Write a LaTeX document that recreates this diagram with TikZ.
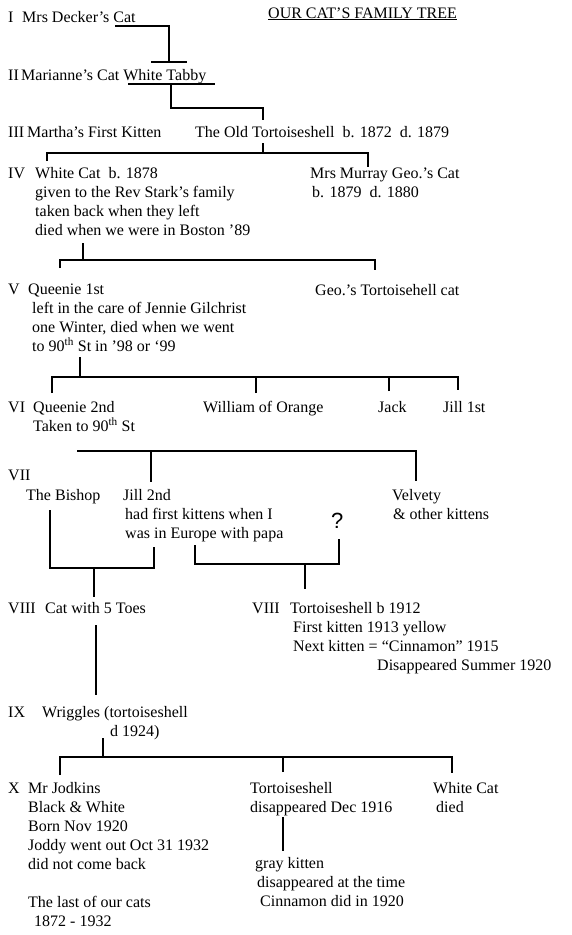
\documentclass[tikz,border=0pt]{standalone}
\usepackage{fontspec}
\setmainfont{Liberation Serif}
\newfontfamily\askfont{Liberation Sans}
\newcommand\catlines[1]{\begin{tabular}[t]{@{}l@{}}#1\end{tabular}}
\tikzset{
    cat/.style={anchor=base west, inner sep=0pt, font=\fontsize{16}{19}\selectfont},
    branch/.style={line width=2pt},
}

\begin{document}
\begin{tikzpicture}[x=1pt, y=-1pt]
    \useasboundingbox (0,0) rectangle (572,935);
    \node[cat] (title) at (268,18) {\underline{OUR CAT'S FAMILY TREE}};
    % generations
    \foreach \r/\y in {I/22, II/80, III/137, IV/178, V/294, VI/412, VII/480, VIII/613, IX/717, X/793}
        \node[cat] (gen\r) at (8,\y) {\r};
    \node[cat] (genVIIIb) at (252,613) {VIII};
    % the cats
    \node[cat] (decker) at (22,22) {Mrs Decker's Cat};
    \node[cat] (marianne) at (21,80) {Marianne's Cat White Tabby};
    \node[cat] (martha) at (27,137) {Martha's First Kitten};
    \node[cat] (oldtort) at (195,137) {The Old Tortoiseshell\ \ b. 1872\ \ d. 1879};
    \node[cat] (whitecat) at (35,178) {\catlines{White Cat\ \ b. 1878\\given to the Rev Stark's family\\taken back when they left\\died when we were in Boston '89}};
    \node[cat] (murray) at (310,178) {\catlines{Mrs Murray Geo.'s Cat\\\hspace{2pt}b. 1879\ \ d. 1880}};
    \node[cat] (queenie1) at (28,294) {\catlines{Queenie 1st\\\hspace{4pt}left in the care of Jennie Gilchrist\\\hspace{4pt}one Winter, died when we went\\\hspace{4pt}to 90\textsuperscript{th} St in '98 or `99}};
    \node[cat] (geotort) at (315,295) {Geo.'s Tortoisehell cat};
    \node[cat] (queenie2) at (33,412) {\catlines{Queenie 2nd\\Taken to 90\textsuperscript{th} St}};
    \node[cat] (william) at (203,412) {William of Orange};
    \node[cat] (jack) at (378,412) {Jack};
    \node[cat] (jill1) at (443,412) {Jill 1st};
    \node[cat] (bishop) at (26,500) {The Bishop};
    \node[cat] (jill2) at (123,500) {\catlines{Jill 2nd\\\hspace{2pt}had first kittens when I\\\hspace{2pt}was in Europe with papa}};
    \node[cat] (velvety) at (392,500) {\catlines{Velvety\\\hspace{1pt}\& other kittens}};
    \node[cat, font=\askfont\fontsize{22}{26}\selectfont] (unknown) at (331,528) {?};
    \node[cat] (toes) at (45,613) {Cat with 5 Toes};
    \node[cat] (tort1912) at (290,613) {\catlines{Tortoiseshell b 1912\\\hspace{3pt}First kitten 1913 yellow\\\hspace{3pt}Next kitten = ``Cinnamon'' 1915\\\hspace{87pt}Disappeared Summer 1920}};
    \node[cat] (wriggles) at (42,717) {\catlines{Wriggles (tortoiseshell\\\hspace{68pt}d 1924)}};
    \node[cat] (jodkins) at (28,793) {\catlines{Mr Jodkins\\Black \& White\\Born Nov 1920\\Joddy went out Oct 31 1932\\did not come back\\[19pt]The last of our cats\\\hspace{6pt}1872 - 1932}};
    \node[cat] (tortX) at (250,793) {\catlines{Tortoiseshell\\disappeared Dec 1916}};
    \node[cat] (whiteX) at (433,793) {\catlines{White Cat\\\hspace{3pt}died}};
    \node[cat] (gray) at (255,868) {\catlines{gray kitten\\\hspace{2pt}disappeared at the time\\\hspace{5pt}Cinnamon did in 1920}};
    % I -> II
    \coordinate (s1) at (115,26);
    \coordinate (j1) at (169,62);
    \coordinate (l1) at (151,62);
    \coordinate (r1) at (187,62);
    \draw[branch] (s1) -| (j1);
    \draw[branch] (l1) -- (r1);
    % II -> III
    \coordinate (l2) at (128,84);
    \coordinate (r2) at (215,84);
    \coordinate (s2) at (171,84);
    \coordinate (k2) at (263,108);
    \coordinate (e2) at (263,120);
    \draw[branch] (l2) -- (r2);
    \draw[branch] (s2) |- (k2) -- (e2);
    % III -> IV
    \coordinate (s3) at (263,143);
    \coordinate (j3) at (263,153);
    \coordinate (l3) at (47,161);
    \coordinate (r3) at (368,167);
    \draw[branch] (s3) -- (j3);
    \draw[branch] (l3) |- (j3) -| (r3);
    % IV -> V
    \coordinate (s4) at (83,243);
    \coordinate (j4) at (83,260);
    \coordinate (l4) at (60,268);
    \coordinate (r4) at (375,270);
    \draw[branch] (s4) -- (j4);
    \draw[branch] (l4) |- (j4) -| (r4);
    % V -> VI
    \coordinate (s5) at (80,357);
    \coordinate (j5) at (80,377);
    \coordinate (l5) at (52,393);
    \coordinate (r5) at (458,390);
    \coordinate (w5) at (256,393);
    \coordinate (k5) at (389,391);
    \draw[branch] (s5) -- (j5);
    \draw[branch] (l5) |- (j5) -| (r5);
    \draw[branch] (w5) -- (w5 |- j5);
    \draw[branch] (k5) -- (k5 |- j5);
    % VI -> VII
    \coordinate (l6) at (77,451);
    \coordinate (j6) at (151,451);
    \coordinate (d6) at (151,482);
    \coordinate (r6) at (416,481);
    \draw[branch] (l6) -- (j6) -| (r6);
    \draw[branch] (j6) -- (d6);
    % VII -> VIII
    \coordinate (b7) at (50,510);
    \coordinate (j7) at (94,568);
    \coordinate (k7) at (154,547);
    \coordinate (d7) at (94,597);
    \draw[branch] (b7) |- (j7) -| (k7);
    \draw[branch] (j7) -- (d7);
    \coordinate (a8) at (195,545);
    \coordinate (j8) at (305,564);
    \coordinate (q8) at (339,539);
    \coordinate (d8) at (305,589);
    \draw[branch] (a8) |- (j8) -| (q8);
    \draw[branch] (j8) -- (d8);
    % VIII -> IX
    \coordinate (s9) at (96,625);
    \coordinate (e9) at (96,695);
    \draw[branch] (s9) -- (e9);
    % IX -> X
    \coordinate (s10) at (103,738);
    \coordinate (j10) at (103,757);
    \coordinate (l10) at (60,775);
    \coordinate (r10) at (452,773);
    \coordinate (m10) at (283,772);
    \draw[branch] (s10) -- (j10);
    \draw[branch] (l10) |- (j10) -| (r10);
    \draw[branch] (m10) -- (m10 |- j10);
    % tortoiseshell -> gray kitten
    \coordinate (s11) at (283,817);
    \coordinate (e11) at (283,851);
    \draw[branch] (s11) -- (e11);
\end{tikzpicture}
\end{document}
